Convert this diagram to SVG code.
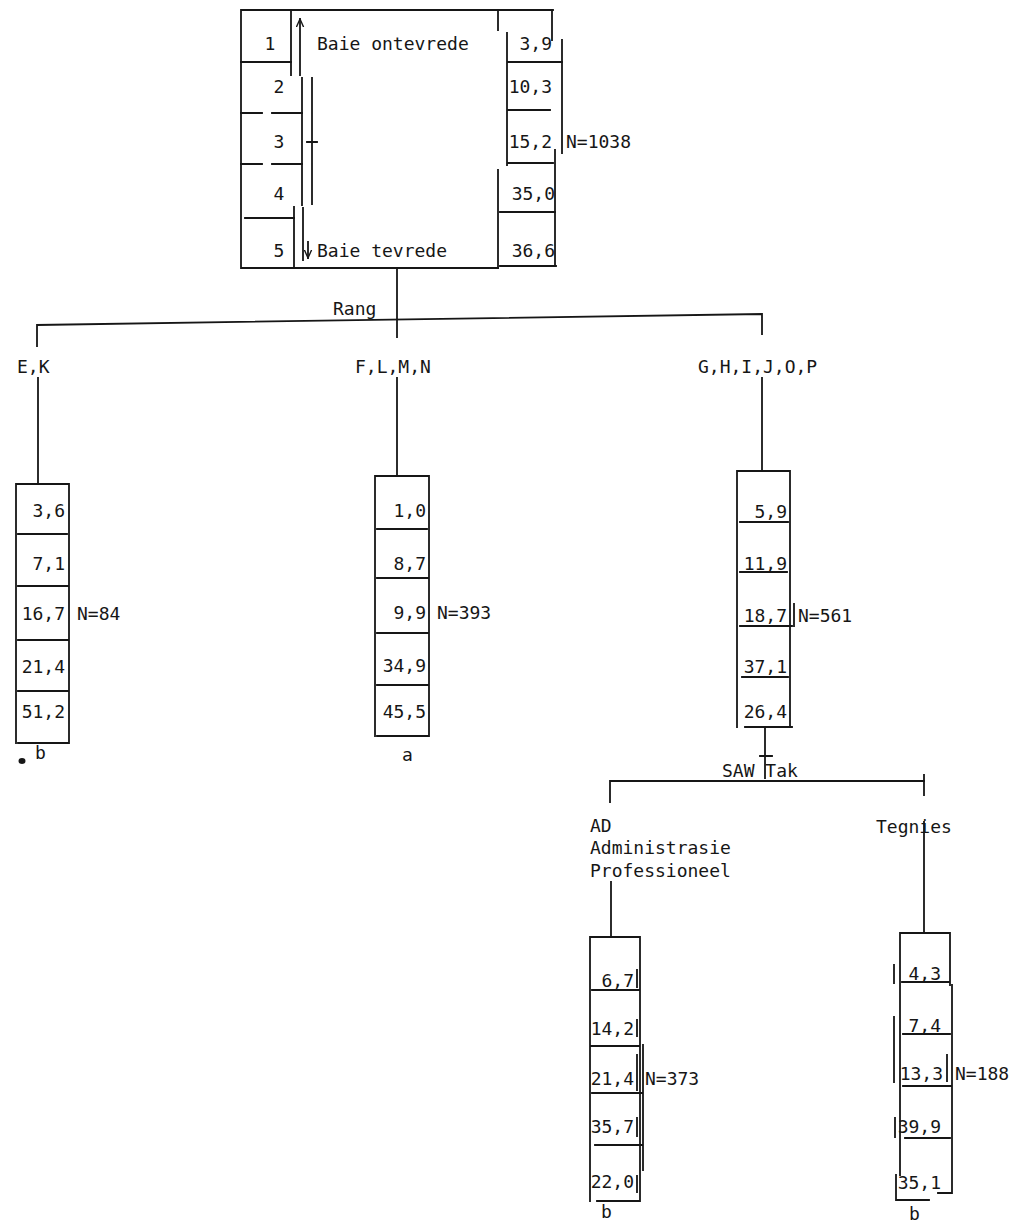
<svg xmlns="http://www.w3.org/2000/svg" width="1022" height="1225" viewBox="0 0 1022 1225">
<defs>
<style>
.ln{fill:none;stroke:#161616;stroke-width:1.8;stroke-linecap:square}
.t{font-family:"DejaVu Sans Mono","Liberation Mono",monospace;font-size:18px;fill:#161616}
.e{text-anchor:end}
.m{text-anchor:middle}
</style>
<marker id="arr" viewBox="0 0 10 10" refX="9" refY="5" markerWidth="9" markerHeight="9" markerUnits="userSpaceOnUse" orient="auto">
<path d="M0,1 L9,5 L0,9" fill="none" stroke="#161616" stroke-width="1.5"/>
</marker>
</defs>
<rect width="1022" height="1225" fill="#ffffff"/>

<g id="node-total">
<path class="ln" d="M241,10 H553 M241,10 V268 H498 M500,266 H556"/>
<path class="ln" d="M291,10 V75 M302,78 V205 M294,207 V268"/>
<path class="ln" d="M241,62 H291 M241,113 H262 M272,113 H302 M241,164 H262 M272,164 H302 M245,218 H294"/>
<path class="ln" d="M300,75 V19" marker-end="url(#arr)"/>
<path class="ln" d="M312,78 V204 M307,142 H317"/>
<path class="ln" d="M303,208 V260"/>
<path class="ln" d="M308,242 V258" marker-end="url(#arr)"/>
<path class="ln" d="M498,10 V30 M507,33 V165 M498,170 V268 M552,10 V40 M562,40 V153 M555,150 V266"/>
<path class="ln" d="M508,62 H562 M508,110 H550 M508,163 H553 M500,212 H555"/>
<text class="t m" x="270" y="50">1</text>
<text class="t m" x="279" y="93">2</text>
<text class="t m" x="279" y="148">3</text>
<text class="t m" x="279" y="200">4</text>
<text class="t m" x="279" y="257">5</text>
<text class="t" x="317" y="50">Baie ontevrede</text>
<text class="t" x="317" y="257">Baie tevrede</text>
<text class="t e" x="552" y="50">3,9</text>
<text class="t e" x="552" y="93">10,3</text>
<text class="t e" x="552" y="148">15,2</text>
<text class="t e" x="555" y="200">35,0</text>
<text class="t e" x="555" y="257">36,6</text>
<text class="t" x="566" y="148">N=1038</text>
</g>

<g id="node-ek">
<path class="ln" d="M16,484 H68 M16,484 V743 M69,484 V743 M18,534 H67 M18,586 H68 M18,640 H68 M18,691 H68 M18,743 H68"/>
<text class="t e" x="65" y="517">3,6</text>
<text class="t e" x="65" y="570">7,1</text>
<text class="t e" x="65" y="620">16,7</text>
<text class="t e" x="65" y="673">21,4</text>
<text class="t e" x="65" y="718">51,2</text>
<text class="t" x="77" y="620">N=84</text>
<ellipse cx="22" cy="761" rx="3.5" ry="3" fill="#161616"/>
<text class="t" x="35" y="759">b</text>
</g>

<g id="node-flmn">
<path class="ln" d="M375,476 H429 M375,476 V736 M429,476 V736 M377,529 H427 M377,578 H428 M377,633 H429 M377,685 H429 M377,736 H429"/>
<text class="t e" x="426" y="517">1,0</text>
<text class="t e" x="426" y="570">8,7</text>
<text class="t e" x="426" y="619">9,9</text>
<text class="t e" x="426" y="672">34,9</text>
<text class="t e" x="426" y="718">45,5</text>
<text class="t" x="437" y="619">N=393</text>
<text class="t" x="402" y="761">a</text>
</g>

<g id="node-ghijop">
<path class="ln" d="M737,471 H790 M737,471 V727 M790,471 V727 M740,522 H788 M740,572 H787 M740,626 H792 M742,677 H788 M745,727 H792 M794,604 V626"/>
<text class="t e" x="787" y="518">5,9</text>
<text class="t e" x="787" y="570">11,9</text>
<text class="t e" x="787" y="622">18,7</text>
<text class="t e" x="787" y="673">37,1</text>
<text class="t e" x="787" y="718">26,4</text>
<text class="t" x="798" y="622">N=561</text>
</g>

<g id="node-ad">
<path class="ln" d="M590,937 H640 M590,937 V1201 M640,937 V1201 M643,1045 V1170 M592,990 H640 M590,1046 H640 M592,1093 H643 M595,1145 H643 M597,1201 H640"/>
<path class="ln" d="M637,970 V987 M637,1020 V1036 M637,1055 V1090 M637,1118 V1136 M637,1176 V1192"/>
<text class="t e" x="634" y="987">6,7</text>
<text class="t e" x="634" y="1035">14,2</text>
<text class="t e" x="634" y="1085">21,4</text>
<text class="t e" x="634" y="1133">35,7</text>
<text class="t e" x="634" y="1188">22,0</text>
<text class="t" x="645" y="1085">N=373</text>
<text class="t" x="601" y="1218">b</text>
</g>

<g id="node-tegnies">
<path class="ln" d="M900,933 H950 M900,933 V1175 M950,933 V985 M952,985 V1193 M902,982 H950 M903,1034 H950 M903,1086 H952 M905,1138 H950 M938,1193 H952 M896,1175 V1200 H929"/>
<path class="ln" d="M894,965 V983 M894,1017 V1082 M895,1118 V1137 M947,1055 V1081"/>
<text class="t e" x="941" y="980">4,3</text>
<text class="t e" x="941" y="1032">7,4</text>
<text class="t e" x="943" y="1080">13,3</text>
<text class="t e" x="941" y="1133">39,9</text>
<text class="t e" x="941" y="1189">35,1</text>
<text class="t" x="955" y="1080">N=188</text>
<text class="t" x="909" y="1220">b</text>
</g>

<g id="connectors">
<path class="ln" d="M397,268 V337"/>
<path class="ln" d="M37,346 V325 L762,314 V334"/>
<text class="t" x="333" y="315">Rang</text>
<text class="t" x="17" y="373">E,K</text>
<text class="t" x="355" y="373">F,L,M,N</text>
<text class="t" x="698" y="373">G,H,I,J,O,P</text>
<path class="ln" d="M38,378 V484"/>
<path class="ln" d="M397,378 V476"/>
<path class="ln" d="M762,378 V471"/>
<path class="ln" d="M765,727 V778 M760,756 H772"/>
<path class="ln" d="M610,802 V781 H924 V775"/>
<text class="t" x="722" y="777">SAW Tak</text>
<text class="t" x="590" y="832">AD</text>
<text class="t" x="590" y="854">Administrasie</text>
<text class="t" x="590" y="877">Professioneel</text>
<text class="t" x="876" y="833">Tegnies</text>
<path class="ln" d="M611,882 V937"/>
<path class="ln" d="M924,795 V781 M924,822 V933"/>
</g>
</svg>
